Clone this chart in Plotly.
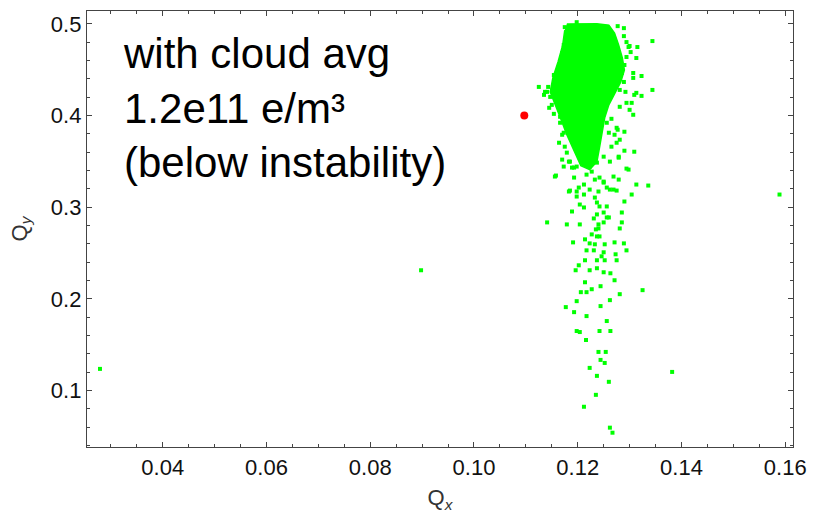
import plotly.graph_objects as go

# Dense core of the tune footprint (outline of the saturated region)
core_qx = [0.1179, 0.1208, 0.1237, 0.1260, 0.1271, 0.1279, 0.1286, 0.1290, 0.1283,
           0.1273, 0.1260, 0.1252, 0.1248, 0.1242, 0.1237, 0.1223, 0.1206, 0.1194,
           0.1179, 0.1168, 0.1156, 0.1147, 0.1152, 0.1162, 0.1171, 0.1175]
core_qy = [0.4997, 0.5000, 0.5000, 0.4986, 0.4899, 0.4768, 0.4627, 0.4497, 0.4366,
           0.4258, 0.4116, 0.3975, 0.3823, 0.3649, 0.3497, 0.3410, 0.3454, 0.3605,
           0.3790, 0.3953, 0.4116, 0.4258, 0.4410, 0.4584, 0.4768, 0.4932]

# Individual particle tunes around and below the core
tune_qx = [
    0.1175, 0.1198, 0.1277, 0.1289, 0.1344, 0.1315, 0.1300, 0.1313, 0.1307, 0.1307,
    0.1323, 0.1344, 0.1323, 0.1309, 0.1292, 0.1125, 0.1143, 0.1141, 0.1145, 0.1154,
    0.1300, 0.1304, 0.1164, 0.1170, 0.1275, 0.1265, 0.1279, 0.1309, 0.1158, 0.1298,
    0.1336, 0.1313, 0.1304, 0.1183, 0.1189, 0.1250, 0.1269, 0.1198, 0.1183,
    0.1289, 0.1294, 0.1298, 0.1302, 0.1294, 0.1290, 0.1285, 0.1289, 0.1281, 0.1313,
    0.1154, 0.1164, 0.1170, 0.1173, 0.1137, 0.1166,
    0.1294, 0.1281, 0.1307, 0.1265, 0.1256, 0.1277, 0.1290, 0.1271, 0.1260, 0.1281,
    0.1275, 0.1290, 0.1279, 0.1262, 0.1294, 0.1150, 0.1166, 0.1166, 0.1173, 0.1175,
    0.1179, 0.1170, 0.1185, 0.1173, 0.1198, 0.1212, 0.1223, 0.1237, 0.1250, 0.1147,
    0.1135,
    0.1156, 0.1193, 0.1279, 0.1275, 0.1185, 0.1290, 0.1285, 0.1141, 0.1179, 0.1204,
    0.1285, 0.1281, 0.1189, 0.1237, 0.1231, 0.1260, 0.1250, 0.1240, 0.1193, 0.1202,
    0.1212, 0.1217, 0.1227, 0.1233, 0.1242, 0.1250, 0.1256, 0.1262, 0.1240, 0.1223,
    0.1212, 0.1204, 0.1212, 0.1233, 0.1237, 0.1242, 0.1256, 0.1250, 0.1256, 0.1240,
    0.1235, 0.1227, 0.1237, 0.1242, 0.1214, 0.1191, 0.1223, 0.1252, 0.1271, 0.1289,
    0.1269, 0.1198,
    0.1233, 0.1294, 0.1217, 0.1231, 0.1250, 0.1246, 0.1273, 0.1214, 0.1237, 0.1252,
    0.1275, 0.1202, 0.1196, 0.1223, 0.1237, 0.1250, 0.1263, 0.1271, 0.1214, 0.1244,
    0.1227, 0.1217, 0.1206, 0.1281, 0.1325, 0.1262, 0.1198, 0.1177, 0.1244, 0.1193,
    0.1217, 0.1256, 0.1198, 0.1204, 0.1242, 0.1263, 0.1216, 0.1240, 0.1254, 0.1244,
    0.1252, 0.1223, 0.1237, 0.1260, 0.1382, 0.1235, 0.1212, 0.1262, 0.1267,
    0.0279, 0.0898, 0.1589,
]
tune_qy = [
    0.4964, 0.5018, 0.4975, 0.4953, 0.4812, 0.4747, 0.4758, 0.4627, 0.4464, 0.4410,
    0.4431, 0.4279, 0.4214, 0.4225, 0.4258, 0.4312, 0.4312, 0.4258, 0.4084, 0.4018,
    0.4062, 0.4138, 0.3703, 0.3790, 0.3866, 0.3660, 0.3551, 0.3605, 0.3345, 0.3410,
    0.3236, 0.3247, 0.3138, 0.3497, 0.3432, 0.3279, 0.3192, 0.3171, 0.3171,
    0.4866, 0.4801, 0.4747, 0.4692, 0.4638, 0.4551, 0.4464, 0.4366, 0.4279, 0.4247,
    0.4442, 0.4551, 0.4681, 0.4768, 0.4258, 0.4366,
    0.4138, 0.4095, 0.4008, 0.3964, 0.3921, 0.3845, 0.3823, 0.3790, 0.3812, 0.3736,
    0.3703, 0.3616, 0.3540, 0.3497, 0.3421, 0.4116, 0.3986, 0.3921, 0.3812, 0.3660,
    0.3595, 0.3519, 0.3497, 0.3443, 0.3443, 0.3551, 0.3443, 0.3486, 0.3551, 0.4203,
    0.4225,
    0.3334, 0.3432, 0.3301, 0.3181, 0.3181, 0.3062, 0.2942, 0.2834, 0.2812, 0.2812,
    0.2834, 0.2768, 0.2953, 0.2921, 0.2877, 0.2888, 0.2834, 0.2768, 0.3323, 0.3214,
    0.3247, 0.3355, 0.3388, 0.3301, 0.3323, 0.3268, 0.3214, 0.3192, 0.3171, 0.3192,
    0.3138, 0.3029, 0.2997, 0.3105, 0.3051, 0.3008, 0.3008, 0.2942, 0.2888, 0.2812,
    0.2758, 0.2703, 0.2681, 0.2681, 0.2649, 0.2616, 0.2605, 0.2595, 0.2616, 0.2605,
    0.3334, 0.3116,
    0.2595, 0.2529, 0.2529, 0.2529, 0.2508, 0.2464, 0.2486, 0.2421, 0.2421, 0.2421,
    0.2421, 0.2366, 0.2312, 0.2312, 0.2334, 0.2290, 0.2279, 0.2203, 0.2181, 0.2138,
    0.2105, 0.2073, 0.2073, 0.2051, 0.2095, 0.1986, 0.1975, 0.1910, 0.1921, 0.1855,
    0.1812, 0.1758, 0.1649, 0.1638, 0.1649, 0.1649, 0.1551, 0.1421, 0.1421, 0.1334,
    0.1301, 0.1247, 0.1160, 0.1095, 0.1203, 0.0953, 0.0823, 0.0595, 0.0540,
    0.1236, 0.2312, 0.3138,
]

# Reference tune without electron cloud
ref_qx = [0.1097]
ref_qy = [0.4000]

GREEN = "rgb(0,255,0)"
RED = "rgb(255,0,0)"
FRAME = "#444444"
FONT = "Arial, Liberation Sans, Helvetica, sans-serif"

fig = go.Figure()

fig.add_trace(go.Scatter(
    x=core_qx, y=core_qy, mode="lines", fill="toself",
    fillcolor=GREEN, line=dict(color=GREEN, width=1.5), hoverinfo="skip",
    showlegend=False,
))
fig.add_trace(go.Scatter(
    x=tune_qx, y=tune_qy, mode="markers",
    marker=dict(color=GREEN, size=4, symbol="square", line=dict(width=0)),
    showlegend=False,
))
fig.add_trace(go.Scatter(
    x=ref_qx, y=ref_qy, mode="markers",
    marker=dict(color=RED, size=8, symbol="circle", line=dict(width=0)),
    showlegend=False,
))

axis_common = dict(
    showgrid=False, zeroline=False, showline=True, linecolor=FRAME, linewidth=1.3,
    mirror="ticks", ticks="inside", ticklen=5, tickwidth=1.2, tickcolor=FRAME,
    tickfont=dict(family=FONT, size=22, color="#111111"),
)

fig.update_xaxes(
    range=[0.0254, 0.1615], tick0=0.0, dtick=0.02, tickformat=".2f",
    minor=dict(ticks="inside", dtick=0.005, ticklen=2.5, tickcolor=FRAME, showgrid=False),
    title=dict(text="Q<sub><i>x</i></sub>", font=dict(family=FONT, size=22, color="#333333"),
               standoff=11),
    **axis_common,
)
fig.update_yaxes(
    range=[0.0384, 0.514], tick0=0.0, dtick=0.1, tickformat=".1f",
    minor=dict(ticks="inside", dtick=0.02, ticklen=2.5, tickcolor=FRAME, showgrid=False),
    title=dict(text="Q<sub><i>y</i></sub>", font=dict(family=FONT, size=22, color="#333333"),
               standoff=17),
    **axis_common,
)

fig.add_annotation(
    xref="paper", yref="paper", x=0.048, y=0.962, xanchor="left", yanchor="top",
    text="with cloud avg<br>1.2e11 e/m³<br>(below instability)",
    showarrow=False, align="left",
    font=dict(family=FONT, size=42, color="#000000"),
)

fig.update_layout(
    width=817, height=516,
    margin=dict(l=87, r=19, t=10, b=69),
    plot_bgcolor="white", paper_bgcolor="white",
)

fig.write_html("out.html")
